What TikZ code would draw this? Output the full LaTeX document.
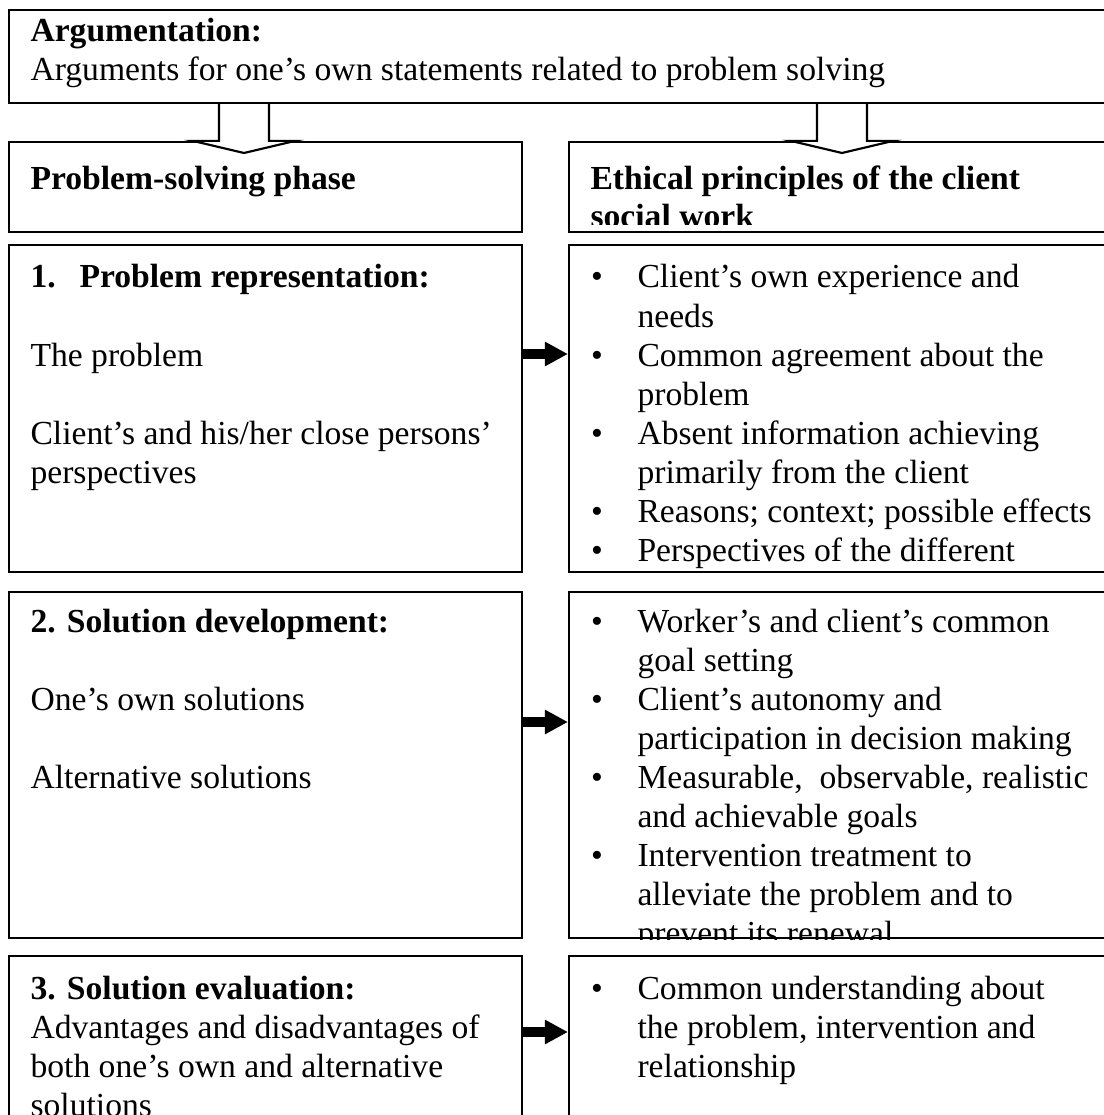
\documentclass[tikz,border=0pt,12pt]{standalone}
\usepackage{fontspec}
\setmainfont{Liberation Serif}[Scale=1.045]
\usetikzlibrary{fit,calc,arrows.meta}

\tikzset{
  cell/.style={draw, line width=0.8pt, inner sep=0pt, rectangle},
  txt/.style={anchor=base west, inner sep=0pt},
  dot/.style={anchor=base, inner sep=0pt},
  hollow/.style={draw, line width=0.8pt, fill=white, line join=miter},
  push/.style={line width=3.7pt, -{Triangle[length=8.6pt, width=8.6pt]}},
}

\begin{document}
\begin{tikzpicture}[x=0.373pt, y=-0.373pt]
  \useasboundingbox (0,0) rectangle (1104,1115);
  \clip (0,0) rectangle (1104,1115);

  % frames
  \node[cell, fit={(9,10) (1106,103)}] (arg) {};
  \node[cell, fit={(9,142) (522,232)}] (phase) {};
  \node[cell, fit={(569,142) (1106,232)}] (ethic) {};
  \node[cell, fit={(9,245) (522,572)}] (p1) {};
  \node[cell, fit={(569,245) (1106,572)}] (e1) {};
  \node[cell, fit={(9,592) (522,938)}] (p2) {};
  \node[cell, fit={(569,592) (1106,938)}] (e2) {};
  \node[cell, fit={(9,956) (522,1130)}] (p3) {};
  \node[cell, fit={(569,956) (1106,1130)}] (e3) {};

  % hollow arrows from the top frame
  \coordinate (t1) at (244,153);
  \coordinate (t2) at (842,153);
  \draw[hollow] ($(arg.south -| t1)+(-25,0)$) -- ($(phase.north -| t1)+(-25,0)$)
    -- ($(phase.north -| t1)+(-51,0)$) -- (t1) -- ($(phase.north -| t1)+(51,0)$)
    -- ($(phase.north -| t1)+(25,0)$) -- ($(arg.south -| t1)+(25,0)$);
  \draw[hollow] ($(arg.south -| t2)+(-25,0)$) -- ($(ethic.north -| t2)+(-25,0)$)
    -- ($(ethic.north -| t2)+(-51,0)$) -- (t2) -- ($(ethic.north -| t2)+(51,0)$)
    -- ($(ethic.north -| t2)+(25,0)$) -- ($(arg.south -| t2)+(25,0)$);

  % top frame
  \node[txt, font=\bfseries] (argT) at (30,42) {Argumentation:};
  \node[txt] (argB) at (30,81) {Arguments for one's own statements related to problem solving};

  % headers
  \node[txt, font=\bfseries] (phaseT) at (30,190) {Problem-solving phase};
  \begin{scope}
    \clip (ethic.north west) rectangle ($(ethic.south east)+(0,-9)$);
    \node[txt, font=\bfseries] (ethicT) at (590,190) {Ethical principles of the client};
    \node[txt, font=\bfseries] (ethicB) at (590,228) {social work};
  \end{scope}

  % phase 1
  \node[txt, font=\bfseries] (p1n) at (30,288) {1.};
  \node[txt, font=\bfseries] (p1T) at (79,288) {Problem representation:};
  \node[txt] (p1a) at (30,366) {The problem};
  \node[txt] (p1b) at (30,444) {Client's and his/her close persons'};
  \node[txt] (p1c) at (30,483) {perspectives};
  \foreach \y/\t [count=\i] in {288/Client's own experience and, 327/needs,
      366/Common agreement about the, 405/problem,
      444/Absent information achieving, 483/primarily from the client,
      522/Reasons; context; possible effects, 561/Perspectives of the different}
    \node[txt] (e1l\i) at (637,\y) {\t};
  \foreach \y [count=\i] in {288,366,444,522,561}
    \node[dot] (e1d\i) at (597,\y) {\textbullet};

  % phase 2
  \node[txt, font=\bfseries] (p2T) at (30,632) {2. Solution development:};
  \node[txt] (p2a) at (30,710) {One's own solutions};
  \node[txt] (p2b) at (30,788) {Alternative solutions};
  \begin{scope}
    \clip (e2.north west) rectangle (e2.south east);
    \foreach \y/\t [count=\i] in {632/Worker's and client's common, 671/goal setting,
        710/Client's autonomy and, 749/participation in decision making,
        788/{Measurable,~ observable, realistic}, 827/and achievable goals,
        866/Intervention treatment to, 905/alleviate the problem and to,
        944/prevent its renewal}
      \node[txt] (e2l\i) at (637,\y) {\t};
    \foreach \y [count=\i] in {632,710,788,866}
      \node[dot] (e2d\i) at (597,\y) {\textbullet};
  \end{scope}

  % phase 3
  \node[txt, font=\bfseries] (p3T) at (30,999) {3. Solution evaluation:};
  \node[txt] (p3a) at (30,1038) {Advantages and disadvantages of};
  \node[txt] (p3b) at (30,1077) {both one's own and alternative};
  \node[txt] (p3c) at (30,1116) {solutions};
  \node[dot] (e3d1) at (597,999) {\textbullet};
  \node[txt] (e3a) at (637,999) {Common understanding about};
  \node[txt] (e3b) at (637,1038) {the problem, intervention and};
  \node[txt] (e3c) at (637,1077) {relationship};

  % links between the columns
  \coordinate (a1) at (0,354);
  \coordinate (a2) at (0,722);
  \coordinate (a3) at (0,1032);
  \draw[push] (p1.east |- a1) -- (e1.west |- a1);
  \draw[push] (p2.east |- a2) -- (e2.west |- a2);
  \draw[push] (p3.east |- a3) -- (e3.west |- a3);
\end{tikzpicture}
\end{document}
